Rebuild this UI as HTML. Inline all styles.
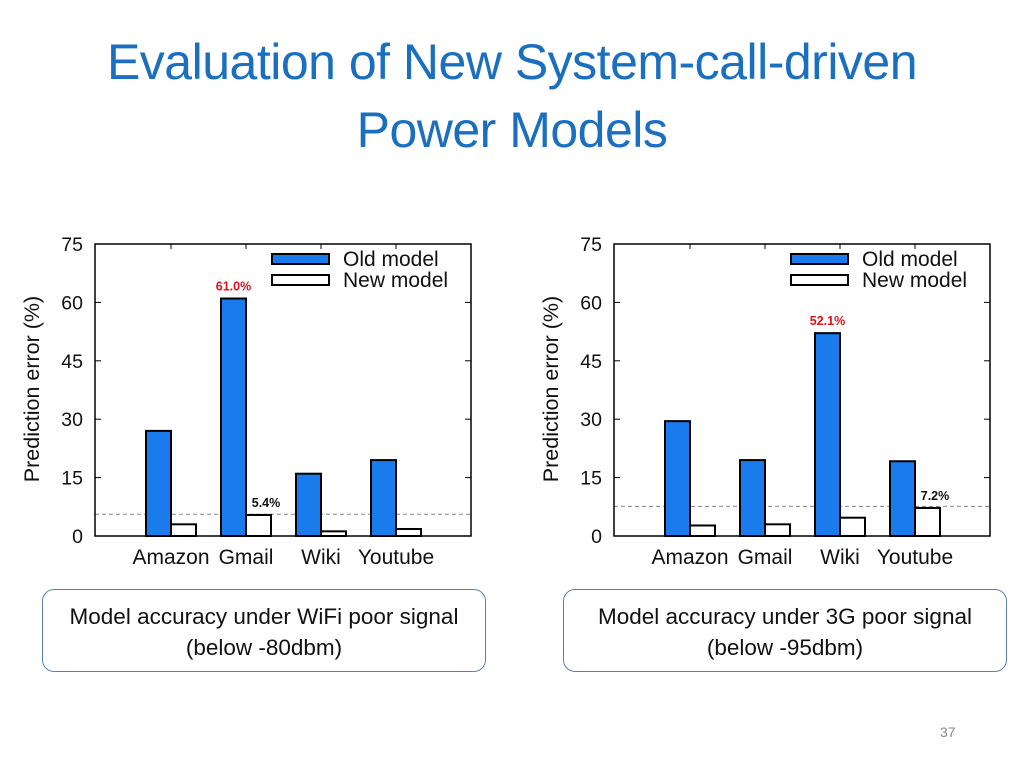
<!DOCTYPE html>
<html><head><meta charset="utf-8"><style>
body{margin:0;width:1024px;height:768px;background:#fff;position:relative;overflow:hidden;font-family:"Liberation Sans",sans-serif}
#title{position:absolute;left:0;top:28px;width:1024px;text-align:center;color:#1a6fc0;font-size:50px;line-height:68px;letter-spacing:-0.5px}
.box{position:absolute;top:589px;width:444px;height:83px;border:1.5px solid #5d7fb5;border-radius:12px;box-sizing:border-box;text-align:center;font-size:22.5px;line-height:31px;padding-top:11px;color:#111;background:#fff}
#pg{position:absolute;left:940px;top:724px;color:#888;font-size:14px}
svg{position:absolute;left:0;top:0}
</style></head><body>
<div id="title">Evaluation of New System-call-driven<br>Power Models</div>
<svg id="chart" width="1024" height="768"></svg>
<div class="box" style="left:42px">Model accuracy under WiFi poor signal<br>(below -80dbm)</div>
<div class="box" style="left:563px">Model accuracy under 3G poor signal<br>(below -95dbm)</div>
<div id="pg">37</div>
<script>
const categories=["Amazon","Gmail","Wiki","Youtube"];
const wifiOld=[27,61.0,16,19.5];
const wifiNew=[3,5.4,1.2,1.8];
const g3Old=[29.5,19.5,52.1,19.2];
const g3New=[2.7,3,4.7,7.2];
const yTicks=[0,15,30,45,60,75];
const wifiThreshold=5.6;
const g3Threshold=7.6;
const wifiNotes=[{cat:1,series:"old",text:"61.0%",color:"#e0101a"},{cat:1,series:"new",text:"5.4%",color:"#111"}];
const g3Notes=[{cat:2,series:"old",text:"52.1%",color:"#e0101a"},{cat:3,series:"new",text:"7.2%",color:"#111"}];
const NS="http://www.w3.org/2000/svg";
const svg=document.getElementById('chart');
function mk(t,a,p){const e=document.createElementNS(NS,t);for(const k in a)e.setAttribute(k,a[k]);(p||svg).appendChild(e);return e;}
function draw(px,oldV,newV,thr,notes,prefix){
  const x0=px,x1=px+376,yb=536,yt=244;
  const y=v=>yb-(v/75)*(yb-yt);
  const gx=i=>x0+76+i*75;
  const g=mk('g',{});
  
  
  yTicks.forEach(t=>{
    mk('line',{x1:x0,x2:x0+6,y1:y(t),y2:y(t),stroke:'#000'},g);
    mk('line',{x1:x1-6,x2:x1,y1:y(t),y2:y(t),stroke:'#000'},g);
    const tl=mk('text',{x:x0-12,y:y(t)+7,'text-anchor':'end','font-size':19.5,fill:'#111'},g);
    tl.textContent=t;
    
    
  });
  const dl=mk('line',{x1:x0,x2:x1,y1:y(thr),y2:y(thr),stroke:'#888','stroke-dasharray':'4,3'},g);
  
  
  categories.forEach((c,i)=>{
    const c0=gx(i);
    const b1=mk('rect',{x:c0-25,y:y(oldV[i]),width:25,height:yb-y(oldV[i]),fill:'#1a7bec',stroke:'#000','stroke-width':2},g);
    
    
    const b2=mk('rect',{x:c0,y:y(newV[i]),width:25,height:yb-y(newV[i]),fill:'#fff',stroke:'#000','stroke-width':2},g);
    
    
    mk('line',{x1:c0,x2:c0,y1:yt,y2:yt+5,stroke:'#000'},g);
    const cl=mk('text',{x:c0,y:564,'text-anchor':'middle','font-size':21,fill:'#111'},g);
    cl.textContent=c;
    
    
  });
  notes.forEach(n=>{
    const v=n.series==='old'?oldV[n.cat]:newV[n.cat];
    const cx=gx(n.cat)+(n.series==='old'?-12.5:20);
    const t=mk('text',{x:cx,y:y(v)-8,'text-anchor':'middle','font-size':12.5,'font-weight':'bold',fill:n.color},g);
    t.textContent=n.text;
    
    
  });
  mk('rect',{x:x0,y:yt,width:x1-x0,height:yb-yt,fill:'none',stroke:'#000','stroke-width':1.5},g);
  const lg=mk('g',{},g);
  
  
  mk('rect',{x:x0+177,y:254,width:57,height:10,fill:'#1a7bec',stroke:'#000','stroke-width':2},lg);
  mk('rect',{x:x0+177,y:275,width:57,height:10,fill:'#fff',stroke:'#000','stroke-width':2},lg);
  const l1=mk('text',{x:x0+248,y:266,'font-size':21,fill:'#111'},lg);l1.textContent='Old model';
  const l2=mk('text',{x:x0+248,y:287,'font-size':21,fill:'#111'},lg);l2.textContent='New model';
  const yt2=mk('text',{x:0,y:0,'text-anchor':'middle','font-size':21.5,fill:'#111',transform:`translate(${x0-56},389) rotate(-90)`},g);
  yt2.textContent='Prediction error (%)';
  
  
}
draw(95,wifiOld,wifiNew,wifiThreshold,wifiNotes,'wifi');
draw(614,g3Old,g3New,g3Threshold,g3Notes,'3g');
</script>
</body></html>
